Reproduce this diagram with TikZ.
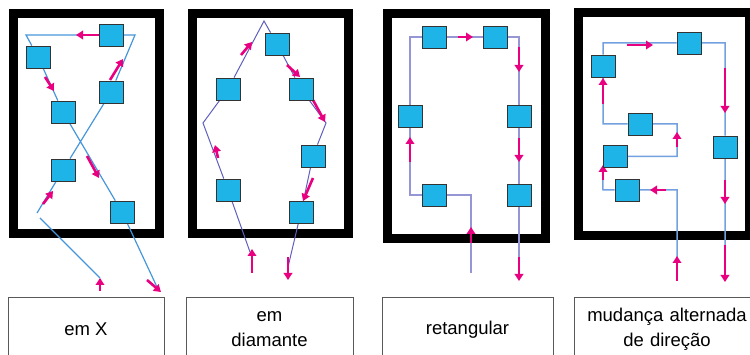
\documentclass[tikz,border=0pt]{standalone}
\usepackage{fontspec}
\setmainfont{Liberation Sans}
\usepackage{tikz}
\usetikzlibrary{positioning, arrows.meta}
\definecolor{cellblue}{RGB}{30,180,232}
\definecolor{flowpink}{RGB}{232,0,128}
\definecolor{pathA}{RGB}{70,150,220}
\definecolor{pathB}{RGB}{95,95,190}
\definecolor{pathC}{RGB}{150,150,215}
\definecolor{pathD}{RGB}{115,160,222}
\pgfdeclarelayer{background}
\pgfsetlayers{background,main}
\tikzset{
x=1pt, y=-1pt, % pixel like units, y going down
cell/.style={draw=black!80, fill=cellblue, line width=0.8pt, minimum width=24pt, minimum height=22pt, inner sep=0pt}, % the machines
frame/.style={line width=9pt}, % the thick walls
flow/.style={flowpink, line width=2.6pt, -{Triangle[length=7pt,width=8.5pt]}}, % direction of the material
namebox/.style={draw=black!65, line width=0.8pt, anchor=north, minimum height=64pt, align=center, font=\fontsize{18.5}{25}\selectfont}, % captions
}

\begin{document}
\begin{tikzpicture}
  \useasboundingbox (0,0) rectangle (750,355);

  % em X
  \node[cell] (a1) at (111,35) {};
  \node[cell] (a2) at (38,57) {};
  \node[cell] (a3) at (111,92) {};
  \node[cell] (a4) at (63,112) {};
  \node[cell] (a5) at (63,170) {};
  \node[cell] (a6) at (122,212) {};
  \coordinate (ain) at (100,278);
  \coordinate (aA) at (40,218);
  \coordinate (aB) at (37,213);
  \coordinate (aTR) at (135,35);
  \coordinate (aTL) at (26,35);
  \coordinate (aout) at (157,287);

  % em diamante
  \node[cell] (b1) at (277,44) {};
  \node[cell] (b2) at (228,89) {};
  \node[cell] (b3) at (301,89) {};
  \node[cell] (b4) at (313,156) {};
  \node[cell] (b5) at (228,190) {};
  \node[cell] (b6) at (301,212) {};
  \coordinate (bin) at (250,252);
  \coordinate (bL) at (203,123);
  \coordinate (bT) at (264,21);
  \coordinate (bR) at (326,123);
  \coordinate (bout) at (288,267);

  % retangular
  \node[cell] (c1) at (434,37) {};
  \node[cell] (c2) at (495,37) {};
  \node[cell] (c3) at (410,116) {};
  \node[cell] (c4) at (519,116) {};
  \node[cell] (c5) at (434,195) {};
  \node[cell] (c6) at (519,195) {};
  \coordinate (cin) at (471,273);
  \coordinate (cBR) at (471,195);
  \coordinate (cBL) at (410,195);
  \coordinate (cTL) at (410,37);
  \coordinate (cTR) at (519,37);
  \coordinate (cout) at (519,280);

  % mudanca alternada de direcao
  \node[cell] (d1) at (603,66) {};
  \node[cell] (d2) at (689,43) {};
  \node[cell] (d3) at (640,124) {};
  \node[cell] (d4) at (725,147) {};
  \node[cell] (d5) at (615,156.5) {};
  \node[cell] (d6) at (627,190) {};
  \coordinate (din) at (677,280);
  \coordinate (d61) at (677,190);
  \coordinate (d60) at (603,190);
  \coordinate (d51) at (677,156.5);
  \coordinate (d31) at (677,124);
  \coordinate (d30) at (603,124);
  \coordinate (dTL) at (603,43);
  \coordinate (dTR) at (725,43);
  \coordinate (dout) at (725,281);

  \begin{pgfonlayer}{background}
    \draw[frame] (13.5,13.5) rectangle (159.5,233.5);
    \draw[frame] (192.5,13.5) rectangle (348.5,234);
    \draw[frame] (387.5,13.5) rectangle (545.5,238.5);
    \draw[frame] (578,13) rectangle (749.5,235.5);

    \draw[pathA, line width=1.2pt] (ain) -- (aA);
    \draw[pathA, line width=1.2pt] (aB) -- (a5) -- (a3) -- (aTR) -- (a1) -- (aTL) -- (a2) -- (a4) -- (a6) -- (aout);
    \draw[pathB, line width=1pt] (bin) -- (b5) -- (bL) -- (b2) -- (bT) -- (b1) -- (b3) -- (bR) -- (b4) -- (b6) -- (bout);
    \draw[pathC, line width=1.5pt] (cin) -- (cBR) -- (c5) -- (cBL) -- (c3) -- (cTL) -- (c1) -- (c2) -- (cTR) -- (c4) -- (c6) -- (cout);
    \draw[pathD, line width=1.5pt] (din) -- (d61) -- (d6) -- (d60) -- (d5.south west) -- (d5) -- (d51) -- (d31) -- (d3) -- (d30) -- (d1) -- (dTL) -- (d2) -- (dTR) -- (d4) -- (dout);

    % direction marks
    \foreach \s/\t in {{99,35}/{76,35}, {45,77}/{54,91}, {110,80}/{123,59}, {87,156}/{99,178}, {43,204}/{53,191}, {100,291}/{100,278}, {147,280}/{161,292},
      {241,55}/{252,42}, {287,65}/{300,77}, {313,100}/{325,122}, {218,158}/{215,145}, {313,178}/{303,201}, {252,273}/{252,249}, {288,257}/{288,280},
      {458,37}/{473,37}, {519,47}/{519,72}, {519,138}/{519,162}, {519,257}/{519,281}, {410,162}/{410,137}, {471,243}/{471,227},
      {627,45}/{653,45}, {603,104}/{603,78}, {725,68}/{725,113}, {725,180}/{725,204}, {725,245}/{725,282}, {677,147}/{677,132}, {603,180}/{603,165}, {666,190}/{650,190}, {677,281}/{677,256}}
      \draw[flow] (\s) -- (\t);
  \end{pgfonlayer}

  \node[namebox, minimum width=156pt] (lab1) at (86,297) {em X};
  \node[namebox, minimum width=167pt] (lab2) at (269.5,297) {em\\diamante};
  \node[namebox, minimum width=171pt] (lab3) at (467.5,297) {retangular};
  \node[namebox, minimum width=186pt, text width=170pt] (lab4) at (667,297) {mudança alternada\\de direção};

\end{tikzpicture}
\end{document}
